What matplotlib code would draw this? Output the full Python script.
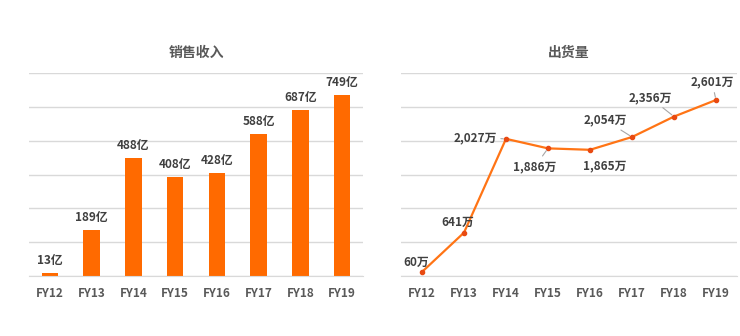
import matplotlib
matplotlib.use("Agg")
import matplotlib.pyplot as plt

plt.rcParams['font.family'] = ['Noto Sans CJK SC', 'DejaVu Sans']

years = ["FY12", "FY13", "FY14", "FY15", "FY16", "FY17", "FY18", "FY19"]
revenue = [13, 189, 488, 408, 428, 588, 687, 749]          # 亿
shipments = [60, 641, 2027, 1886, 1865, 2054, 2356, 2601]  # 万

ORANGE = "#FF6A00"
LINE = "#FF7415"
DOT = "#E84A12"
GRID = "#D9D9D9"
TICK = "#595959"
LABEL = "#404040"

fig = plt.figure(figsize=(7.4, 3.36), dpi=100)
W, H = 740, 336


def style(ax, ymax, step):
    ax.set_xlim(-0.5, len(years) - 0.5)
    ax.set_ylim(0, ymax)
    ax.set_yticks(range(0, ymax + 1, step))
    ax.grid(axis="y", color=GRID, lw=1)
    ax.set_axisbelow(True)
    for s in ["top", "right", "left"]:
        ax.spines[s].set_visible(False)
    ax.spines["bottom"].set_color(GRID)
    ax.tick_params(axis="y", length=0, labelleft=False)
    ax.tick_params(axis="x", length=0, pad=8, labelsize=8.5, labelcolor=TICK)
    ax.set_xticks(range(len(years)))
    ax.set_xticklabels(years, fontweight="bold")


# Revenue bars
ax1 = fig.add_axes([29 / W, 60 / H, 334 / W, 203 / H])
style(ax1, 840, 140)
x = range(len(years))
ax1.bar(x, revenue, width=0.4, color=ORANGE, zorder=2)
for i, v in enumerate(revenue):
    ax1.annotate(f"{v}亿", (i, v), xytext=(0, 6), textcoords="offset pixels",
                 ha="center", va="bottom", fontsize=8.5, fontweight="bold",
                 color=LABEL)
fig.text(196 / W, 1 - 53 / H, "销售收入", ha="center", va="center",
         fontsize=10, fontweight="bold", color=TICK)

# Shipment line
ax2 = fig.add_axes([401 / W, 60 / H, 336 / W, 203 / H])
style(ax2, 3000, 500)
ax2.plot(x, shipments, color=LINE, lw=1.6, zorder=3,
         marker="o", ms=3, mfc=DOT, mec=DOT)

offsets = [(-6, 10), (-6, 10), (-31, 1), (-13, -18),
           (15, -16), (-27, 17), (-24, 19), (-4, 18)]
leaders = [False, False, True, True, False, True, True, True]
for i, (v, off, lead) in enumerate(zip(shipments, offsets, leaders)):
    props = None
    if lead:
        props = dict(arrowstyle="-", color="#A6A6A6", lw=0.8,
                     shrinkA=1, shrinkB=2)
    ax2.annotate(f"{v:,}万", (i, v), xytext=off, textcoords="offset pixels",
                 ha="center", va="center", fontsize=8.5, fontweight="bold",
                 color=LABEL, arrowprops=props, zorder=4)
fig.text(569 / W, 1 - 53 / H, "出货量", ha="center", va="center",
         fontsize=10, fontweight="bold", color=TICK)

fig.savefig("out.png", dpi=100, facecolor="white")
